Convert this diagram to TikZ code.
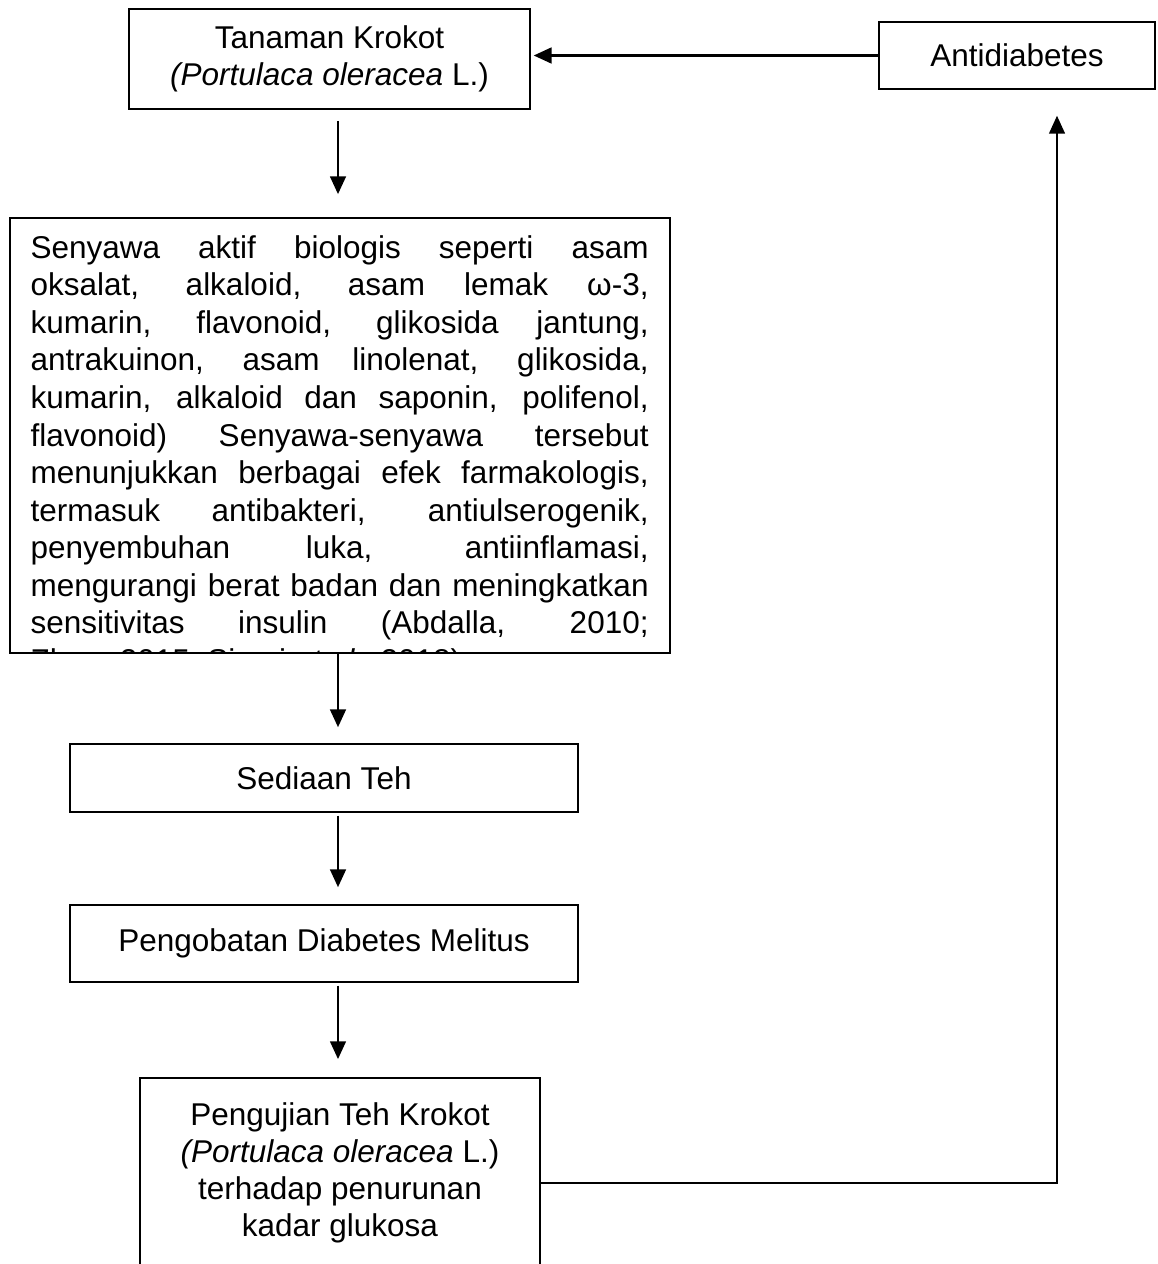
\documentclass[tikz,border=0pt]{standalone}
\usepackage{fontspec}
\setmainfont{Liberation Sans}
\usetikzlibrary{arrows.meta, positioning, calc}

\begin{document}
\begin{tikzpicture}[x=0.381pt, y=-0.381pt,
    kotak/.style={draw, line width=0.6pt, align=center, inner sep=0pt,
                  font=\fontsize{12pt}{14.1pt}\selectfont},
    panah/.style={line width=0.9pt, -{Triangle[length=6.8pt, width=6pt]}}]
  \useasboundingbox (0,0) rectangle (1157,1264);
  % line of the vertical arrows
  \coordinate (poros) at (338,0);
  % boxes, top to bottom
  \node[kotak, minimum width=152.8pt, minimum height=38.1pt] (tanaman) at (329.5,59)
    {Tanaman Krokot\\\textit{(Portulaca oleracea} L.)};
  \node[kotak, minimum width=105.3pt, minimum height=25.5pt] (antidiabetes) at (1017,55.5)
    {Antidiabetes};
  \node[kotak, minimum width=251.5pt, minimum height=165.7pt] (senyawa) at (340,435.5) {};
  \begin{scope}
    \clip (senyawa.south west) rectangle (senyawa.north east);
    \node[anchor=north west, inner sep=0pt, text width=235.5pt, align=justify,
          font=\fontsize{12pt}{14.3pt}\selectfont] (senyawateks) at (30,235)
      {Senyawa aktif biologis seperti asam\linebreak
       oksalat, alkaloid, asam lemak ω-3,\linebreak
       kumarin, flavonoid, glikosida jantung,\linebreak
       antrakuinon, asam linolenat, glikosida,\linebreak
       kumarin, alkaloid dan saponin, polifenol,\linebreak
       flavonoid) Senyawa-senyawa tersebut\linebreak
       menunjukkan berbagai efek farmakologis,\linebreak
       termasuk antibakteri, antiulserogenik,\linebreak
       penyembuhan luka, antiinflamasi,\linebreak
       mengurangi berat badan dan meningkatkan\linebreak
       sensitivitas insulin (Abdalla, 2010;\linebreak
       Zhou, 2015; Sicari \textit{et al}., 2018)};
  \end{scope}
  \node[kotak, minimum width=193.5pt, minimum height=25.9pt] (sediaan) at (324,778)
    {Sediaan Teh};
  \node[kotak, minimum width=193.5pt, minimum height=29.3pt] (pengobatan) at (324,943.5)
    {Pengobatan Diabetes Melitus};
  \node[kotak, minimum width=152.4pt, minimum height=72.4pt] (uji) at (340,1173)
    {Pengujian Teh Krokot\\\textit{(Portulaca oleracea} L.)\\terhadap penurunan\\kadar glukosa};
  % arrows down
  \draw[panah, shorten <=4.2pt, shorten >=8.8pt] (poros |- tanaman.south) -- (poros |- senyawa.north);
  \draw[panah, shorten >=6.1pt] (poros |- senyawa.south) -- (poros |- sediaan.north);
  \draw[panah, shorten <=1.1pt, shorten >=6.5pt] (poros |- sediaan.south) -- (poros |- pengobatan.north);
  \draw[panah, shorten <=1.1pt, shorten >=6.9pt] (poros |- pengobatan.south) -- (poros |- uji.north);
  % feedback loop
  \draw[panah, shorten >=1.1pt] (antidiabetes.west) -- (antidiabetes.west -| tanaman.east);
  \coordinate (balik) at (1057,1183);
  \draw[panah, line width=0.7pt, shorten >=9.9pt] (uji.east |- balik) -- (balik) -- (balik |- antidiabetes.south);
\end{tikzpicture}
\end{document}
